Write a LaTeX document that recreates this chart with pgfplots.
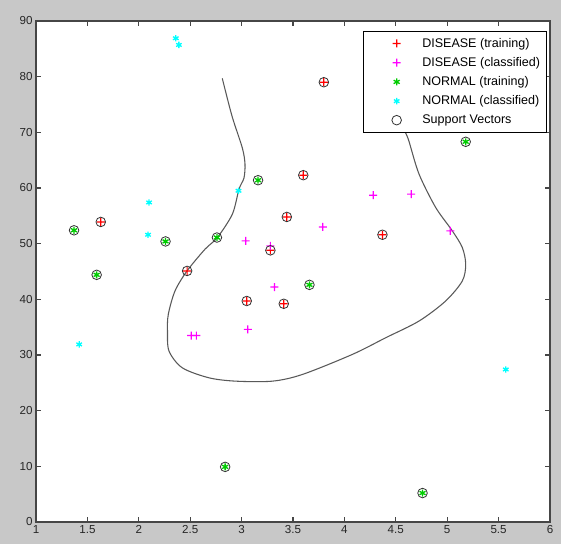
\documentclass[border=0pt]{standalone}
\usepackage{fontspec}
\setmainfont{Liberation Sans}
\usepackage{pgfplots}
\pgfplotsset{compat=1.18}
\usetikzlibrary{backgrounds}
\definecolor{figgray}{RGB}{200,200,200}
\definecolor{axgray}{RGB}{70,70,70}
\definecolor{mred}{rgb}{1,0,0}
\definecolor{mmag}{rgb}{1,0,1}
\definecolor{mgreen}{rgb}{0,0.8,0}
\definecolor{mcyan}{rgb}{0,1,1}

% plus sign drawn as two filled bars
\pgfdeclareplotmark{fplus}{%
  \pgfpathrectangle{\pgfqpoint{-\pgfplotmarksize}{-0.45pt}}{\pgfqpoint{2\pgfplotmarksize}{0.9pt}}%
  \pgfpathrectangle{\pgfqpoint{-0.45pt}{-\pgfplotmarksize}}{\pgfqpoint{0.9pt}{2\pgfplotmarksize}}%
  \pgfusepathqfill}

\begin{document}
\begin{tikzpicture}
\begin{axis}[
  name=ax,
  scale only axis,
  width=385.5pt, height=375.75pt,
  xmin=1, xmax=6, ymin=0, ymax=90,
  xtick={1,1.5,...,6}, ytick={0,10,...,90},
  tick align=inside,
  major tick length=4pt,
  axis background/.style={fill=white},
  axis line style={axgray, line width=0.8pt},
  tick style={axgray, line width=0.8pt},
  ticklabel style={font=\fontsize{8.7}{10}\selectfont, text=black!85},
  /pgf/number format/assume math mode=true,
  xticklabel style={yshift=1pt},
  yticklabel style={xshift=1pt},
  legend style={at={(0.994,0.98)}, anchor=north east,
    font=\fontsize{9.4}{11}\selectfont, draw=black, fill=white,
    row sep=2.1pt, inner xsep=3pt, inner ysep=3pt},
  legend cell align=left,
  legend image code/.code={
    \path (-22pt,0pt) (17pt,0pt);
    \draw[#1, only marks] plot coordinates {(0pt,0pt)};
  },
]
% decision boundary
\addplot[forget plot, smooth, color=black!65, line width=0.8pt] coordinates {
  (4.48,75.6) (4.531,72.9) (4.596,69.9) (4.628,68.4) (4.726,62.5) (4.888,56.5)
  (5.050,52.3) (5.147,49.3) (5.180,46.3) (5.147,43.3) (4.985,39.7) (4.726,36.1)
  (4.402,33.1) (4.077,30.1) (3.591,26.5) (3.299,25.3) (2.943,25.3) (2.683,25.9)
  (2.423,27.7) (2.294,30.7) (2.279,34.3) (2.287,37.3) (2.352,41.5) (2.469,45.1)
  (2.644,49.0) (2.764,51.1) (2.910,55.3) (2.975,59.8) (3.023,61.8) (3.033,64.3)
  (3.007,67.2) (2.907,72.9) (2.812,79.7)
};
\addplot[only marks, mark=fplus, mark size=3pt, color=mred, mark options={fill=mred, draw=none}] coordinates {
  (1.63,53.9) (2.47,45.1) (3.05,39.7) (3.41,39.2) (3.28,48.8)
  (3.44,54.8) (3.60,62.3) (3.80,79.0) (4.37,51.6)
};
\addlegendentry{DISEASE (training)}
\addplot[only marks, mark=fplus, mark size=3pt, color=mmag, mark options={fill=mmag, draw=none}] coordinates {
  (3.04,50.5) (3.28,49.6) (3.32,42.2) (3.06,34.6) (2.51,33.5) (2.56,33.5)
  (3.79,53.0) (4.28,58.7) (4.65,58.9) (5.03,52.3)
};
\addlegendentry{DISEASE (classified)}
\addplot[only marks, mark=asterisk, mark size=2.6pt, draw=mgreen, mark options={draw=mgreen, line width=1pt}] coordinates {
  (1.37,52.4) (1.59,44.4) (2.26,50.4) (2.76,51.1) (3.16,61.4)
  (3.66,42.6) (5.18,68.3) (2.84,9.9) (4.76,5.2)
};
\addlegendentry{NORMAL (training)}
\addplot[only marks, mark=asterisk, mark size=2.4pt, draw=mcyan, mark options={draw=mcyan, line width=1pt}] coordinates {
  (2.36,86.9) (2.39,85.7) (2.10,57.4) (2.09,51.6) (2.97,59.5)
  (1.42,31.9) (5.57,27.4)
};
\addlegendentry{NORMAL (classified)}
\addplot[only marks, mark=o, mark size=3.6pt, draw=black!80, mark options={draw=black!80, line width=0.6pt}] coordinates {
  (1.63,53.9) (2.47,45.1) (3.05,39.7) (3.41,39.2) (3.28,48.8)
  (3.44,54.8) (3.60,62.3) (3.80,79.0) (4.37,51.6)
  (1.37,52.4) (1.59,44.4) (2.26,50.4) (2.76,51.1) (3.16,61.4)
  (3.66,42.6) (5.18,68.3) (2.84,9.9) (4.76,5.2)
};
\addlegendentry{Support Vectors}
\end{axis}
\begin{scope}[on background layer]
\fill[figgray] ([shift={(-27pt,-16.5pt)}]ax.south west) rectangle ([shift={(8.25pt,15.75pt)}]ax.north east);
\end{scope}
\pgfresetboundingbox
\path[use as bounding box] ([shift={(-27pt,-16.5pt)}]ax.south west) rectangle ([shift={(8.25pt,15.75pt)}]ax.north east);
\end{tikzpicture}
\end{document}
